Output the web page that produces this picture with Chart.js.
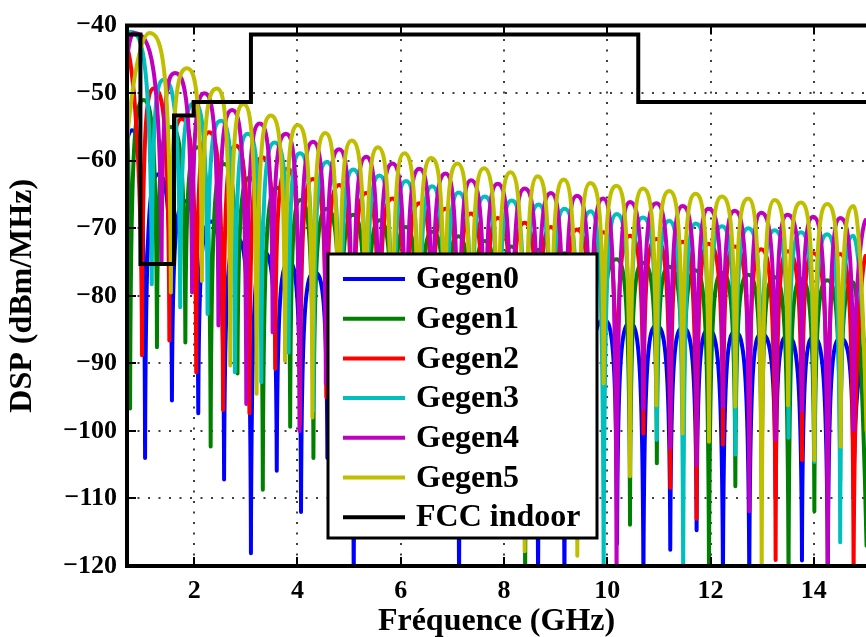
<!DOCTYPE html>
<html>
<head>
<meta charset="utf-8">
<script src="https://cdn.jsdelivr.net/npm/chart.js@4.4.1/dist/chart.umd.min.js"></script>
<style>
html, body { margin: 0; padding: 0; background: #fff; }
</style>
</head>
<body>
<canvas id="chart" width="866" height="637"></canvas>
<script>
var xTicks = [2, 4, 6, 8, 10, 12, 14];
var yTicks = [-120, -110, -100, -90, -80, -70, -60, -50, -40];

//FCC indoor mask, each level holds from its frequency onwards
var fccFreq = [0.7, 0.96, 1.61, 1.99, 3.1, 10.6, 15.01];
var fccDb = [-41.3, -75.3, -53.3, -51.3, -41.3, -51.3, -51.3];

//lobe tops and nulls, in frequency order (GHz, dBm/MHz)
var g0Freq = [0.70, 0.80, 1.05, 1.31, 1.57, 1.83, 2.08, 2.33, 2.58, 2.84, 3.10, 3.35, 3.60, 3.84, 4.07, 4.33, 4.58, 4.84, 5.09, 5.35, 5.60, 5.86, 6.11, 6.36, 6.62, 6.87, 7.13, 7.38, 7.64, 7.90, 8.15, 8.41, 8.66, 8.92, 9.17, 9.43, 9.68, 9.94, 10.19, 10.44, 10.70, 10.95, 11.22, 11.46, 11.73, 11.96, 12.24, 12.47, 12.75, 12.98, 13.26, 13.49, 13.77, 13.99, 14.27, 14.51, 14.77, 15.02];
var g0Db = [-57, -55.5, -104, -62, -95.5, -66, -97.4, -69, -107.2, -71.5, -118.1, -73.5, -105.9, -75, -112, -76.5, -104, -77.5, -123, -78.5, -106, -79.3, -110, -80, -103, -80.7, -123, -81.3, -108, -81.8, -112, -82.3, -123, -82.8, -123, -83.2, -100, -83.6, -116.7, -84, -123, -84.4, -117.6, -84.7, -114.7, -85, -123, -85.3, -123, -85.6, -110, -85.9, -119.2, -86.1, -123, -86.3, -110, -86.5];

var g1Freq = [0.70, 0.76, 1.02, 1.28, 1.55, 1.83, 2.07, 2.32, 2.58, 2.84, 3.08, 3.33, 3.60, 3.86, 4.06, 4.31, 4.57, 4.83, 5.08, 5.34, 5.59, 5.85, 6.10, 6.36, 6.61, 6.87, 7.12, 7.37, 7.63, 7.89, 8.15, 8.41, 8.67, 8.92, 9.17, 9.43, 9.68, 9.93, 10.18, 10.44, 10.69, 10.96, 11.20, 11.47, 11.71, 11.97, 12.22, 12.48, 12.73, 12.99, 13.24, 13.51, 13.75, 14.01, 14.26, 14.51, 14.76, 15.02];
var g1Db = [-55, -96.7, -51, -87.6, -55, -86.9, -58, -102.3, -60.5, -91.5, -62.5, -108.7, -64, -99.4, -65.8, -104, -67.1, -98, -68, -108, -68.8, -101, -69.8, -111, -70.5, -97, -71.2, -106, -71.9, -103, -72.7, -123, -73.2, -109, -73.7, -100, -74.2, -90, -74.6, -113.9, -75.1, -104.8, -75.7, -105, -76.2, -123, -76.6, -108.2, -76.9, -110, -77.2, -123, -77.5, -111.9, -77.7, -107.4, -78, -117];

var g2Freq = [0.70, 0.99, 1.22, 1.52, 1.76, 2.04, 2.29, 2.56, 2.81, 3.07, 3.32, 3.57, 3.81, 4.05, 4.30, 4.56, 4.81, 5.07, 5.33, 5.58, 5.84, 6.10, 6.36, 6.61, 6.87, 7.12, 7.36, 7.63, 7.88, 8.15, 8.40, 8.66, 8.91, 9.17, 9.41, 9.68, 9.92, 10.18, 10.44, 10.70, 10.95, 11.22, 11.46, 11.73, 11.96, 12.24, 12.47, 12.75, 12.98, 13.26, 13.49, 13.77, 13.99, 14.27, 14.51, 14.77, 15.0];
var g2Db = [-43.2, -88.8, -49.3, -86.6, -53.8, -91.3, -55.8, -96.9, -57.8, -97.4, -59.5, -90.8, -61.2, -99, -62.7, -95, -63.6, -104, -64.8, -98, -65.6, -107, -66.3, -94, -67.1, -101, -67.8, -109, -68.5, -97, -69.2, -105, -69.8, -112, -70.2, -99, -70.6, -105, -71.1, -100.4, -71.6, -108.4, -72, -113, -72.3, -102, -72.7, -105, -73.1, -119.1, -73.4, -104.3, -73.7, -110, -73.8, -123, -74.1];

var g3Freq = [0.70, 0.77, 1.18, 1.41, 1.73, 2.00, 2.26, 2.52, 2.79, 3.04, 3.30, 3.56, 3.83, 4.05, 4.31, 4.57, 4.83, 5.08, 5.34, 5.59, 5.85, 6.10, 6.36, 6.61, 6.87, 7.12, 7.37, 7.63, 7.89, 8.15, 8.41, 8.67, 8.92, 9.17, 9.43, 9.68, 9.93, 10.18, 10.44, 10.69, 10.96, 11.20, 11.47, 11.71, 11.97, 12.22, 12.48, 12.73, 12.99, 13.24, 13.51, 13.75, 14.01, 14.26, 14.51, 14.76, 15.02];
var g3Db = [-41.4, -40.9, -78.3, -48, -81.7, -51.5, -82.7, -54.1, -91.3, -56, -92.8, -57.3, -88.4, -58.9, -97, -60.2, -103, -61.3, -95, -62.2, -106, -63, -99, -63.8, -110, -64.7, -96, -65.3, -104, -65.9, -100, -66.5, -108, -67.1, -98, -67.5, -123, -67.9, -100, -68.4, -101.3, -68.9, -123, -69.3, -97, -69.7, -103.5, -70, -100, -70.3, -101, -70.6, -104.6, -70.9, -116.5, -71.1, -97.6];

var g4Freq = [0.70, 0.83, 1.37, 1.63, 1.96, 2.20, 2.47, 2.74, 3.01, 3.27, 3.52, 3.78, 4.04, 4.30, 4.55, 4.81, 5.07, 5.33, 5.58, 5.84, 6.10, 6.36, 6.61, 6.87, 7.12, 7.36, 7.63, 7.88, 8.15, 8.40, 8.66, 8.91, 9.17, 9.41, 9.68, 9.92, 10.18, 10.44, 10.70, 10.95, 11.22, 11.46, 11.73, 11.96, 12.24, 12.47, 12.75, 12.98, 13.26, 13.49, 13.77, 13.99, 14.27, 14.51, 14.77, 15.0];
var g4Db = [-45, -41.1, -74.9, -47, -79.5, -50, -84.4, -52.5, -96, -54.5, -85.4, -56, -100, -57.2, -93, -58.3, -105, -59.4, -97, -60.4, -102, -61.2, -95, -61.9, -108, -62.9, -99, -63.4, -104, -64.1, -96, -64.8, -110, -65.2, -100, -65.6, -123, -66.1, -96.7, -66.3, -102.5, -66.7, -105, -67.1, -96.4, -67.4, -111.9, -67.7, -101.3, -68, -97, -68.3, -123, -68.5, -99.9, -68.8];

var g5Freq = [0.70, 1.135, 1.55, 1.86, 2.15, 2.44, 2.70, 2.955, 3.21, 3.485, 3.76, 4.01, 4.29, 4.54, 4.80, 5.05, 5.32, 5.56, 5.83, 6.07, 6.34, 6.59, 6.85, 7.10, 7.36, 7.61, 7.88, 8.13, 8.40, 8.65, 8.91, 9.16, 9.42, 9.67, 9.93, 10.18, 10.44, 10.69, 10.95, 11.20, 11.46, 11.71, 11.97, 12.22, 12.48, 12.73, 12.99, 13.24, 13.50, 13.75, 14.01, 14.26, 14.52, 14.77, 15.02];
var g5Db = [-57, -41.1, -79.5, -46.3, -77.8, -49.3, -90.3, -51.6, -94.5, -53.3, -89.6, -54.7, -98, -55.9, -103, -57, -96, -58, -107, -58.9, -100, -59.6, -94, -60.4, -105, -61.1, -99, -61.7, -117.8, -62.3, -102, -62.8, -118.5, -63.3, -93, -63.7, -106.7, -64.1, -96.2, -64.5, -100.4, -64.9, -101.6, -65.3, -96.4, -65.6, -123, -65.8, -96.2, -66.2, -104.3, -66.4, -102.3, -66.7, -100];

var labels = ['Gegen0', 'Gegen1', 'Gegen2', 'Gegen3', 'Gegen4', 'Gegen5', 'FCC indoor'];
var colors = ['#0000ff', '#008000', '#ff0000', '#00bfbf', '#bf00bf', '#bfbf00', '#000000'];

var FONT = "'Liberation Serif', 'Times New Roman', serif";

function toPoints(fs, ds) {
	var pts = [];
	for (var i = 0; i < fs.length; i++) {
		pts.push({x: fs[i], y: ds[i]});
	}
	return pts;
}

//round lobe tops, near-vertical drops into the nulls
var archPlugin = {
	id: 'arches',
	beforeDatasetDraw: function(chart, args) {
		var meta = args.meta;
		var line = meta.dataset;
		if (!line || line.options.stepped) {
			return;
		}
		line.updateControlPoints(chart.chartArea, meta.iScale.axis);
		var pts = meta.data;
		for (var i = 0; i < pts.length; i++) {
			var p = pts[i], a = pts[i - 1], b = pts[i + 1];
			p.cp1x = p.x; p.cp1y = p.y; p.cp2x = p.x; p.cp2y = p.y;
			if (!a || !b) {
				continue;
			}
			if (p.y <= a.y && p.y <= b.y) {
				p.cp1x = p.x - 0.6 * (p.x - a.x);
				p.cp2x = p.x + 0.6 * (b.x - p.x);
			} else if (p.y >= a.y && p.y >= b.y) {
				p.cp1x = p.x - 0.05 * (p.x - a.x);
				p.cp1y = p.y - 0.9 * (p.y - a.y);
				p.cp2x = p.x + 0.05 * (b.x - p.x);
				p.cp2y = p.y - 0.9 * (p.y - b.y);
			}
		}
		line._pointsUpdated = true;
	}
};

//dotted grid under the curves, box and inward ticks on top
var framePlugin = {
	id: 'frame',
	beforeDatasetsDraw: function(chart) {
		var ctx = chart.ctx, a = chart.chartArea;
		var xs = chart.scales.x, ys = chart.scales.y;
		ctx.save();
		ctx.strokeStyle = '#000';
		ctx.lineWidth = 1.5;
		ctx.setLineDash([2, 8.5]);
		xTicks.forEach(function(v) {
			var px = Math.round(xs.getPixelForValue(v));
			ctx.beginPath(); ctx.moveTo(px, a.bottom); ctx.lineTo(px, a.top); ctx.stroke();
		});
		yTicks.forEach(function(v) {
			var py = Math.round(ys.getPixelForValue(v));
			ctx.beginPath(); ctx.moveTo(a.left, py); ctx.lineTo(a.right, py); ctx.stroke();
		});
		ctx.restore();
	},
	afterDraw: function(chart) {
		var ctx = chart.ctx, a = chart.chartArea;
		var xs = chart.scales.x, ys = chart.scales.y;
		ctx.save();
		ctx.strokeStyle = '#000';
		ctx.lineWidth = 2;
		xTicks.forEach(function(v) {
			var px = Math.round(xs.getPixelForValue(v));
			ctx.beginPath(); ctx.moveTo(px, a.bottom); ctx.lineTo(px, a.bottom - 9); ctx.stroke();
			ctx.beginPath(); ctx.moveTo(px, a.top); ctx.lineTo(px, a.top + 9); ctx.stroke();
		});
		yTicks.forEach(function(v) {
			var py = Math.round(ys.getPixelForValue(v));
			ctx.beginPath(); ctx.moveTo(a.left, py); ctx.lineTo(a.left + 9, py); ctx.stroke();
		});
		ctx.lineWidth = 4;
		ctx.beginPath();
		ctx.moveTo(a.right, a.top);
		ctx.lineTo(a.left, a.top);
		ctx.lineTo(a.left, a.bottom);
		ctx.lineTo(a.right, a.bottom);
		ctx.stroke();
		ctx.restore();
	}
};

var legendPlugin = {
	id: 'boxLegend',
	afterDatasetsDraw: function(chart) {
		var ctx = chart.ctx;
		var left = 328, top = 254, w = 269, h = 284;
		ctx.save();
		ctx.fillStyle = '#fff';
		ctx.fillRect(left, top, w, h);
		ctx.lineWidth = 3;
		ctx.strokeStyle = '#000';
		ctx.strokeRect(left, top, w, h);
		ctx.font = 'bold 32px ' + FONT;
		ctx.textBaseline = 'middle';
		ctx.textAlign = 'left';
		chart.data.datasets.forEach(function(ds, i) {
			var y = top + 25 + i * 39.7;
			ctx.strokeStyle = ds.borderColor;
			ctx.lineWidth = 4;
			ctx.beginPath(); ctx.moveTo(left + 15, y); ctx.lineTo(left + 77, y); ctx.stroke();
			ctx.fillStyle = '#000';
			ctx.fillText(ds.label, left + 88, y + 1);
		});
		ctx.restore();
	}
};

var series = [[g0Freq, g0Db], [g1Freq, g1Db], [g2Freq, g2Db], [g3Freq, g3Db], [g4Freq, g4Db], [g5Freq, g5Db]];
var datasets = [];
for (var i = 0; i < series.length; i++) {
	datasets.push({
		label: labels[i],
		data: toPoints(series[i][0], series[i][1]),
		borderColor: colors[i],
		borderWidth: 4,
		tension: 0.4,
		borderJoinStyle: 'round',
		borderCapStyle: 'round',
		pointRadius: 0,
		fill: false,
		order: series.length - i
	});
}
datasets.push({
	label: labels[6],
	data: toPoints(fccFreq, fccDb),
	borderColor: colors[6],
	borderWidth: 4,
	stepped: 'before',
	pointRadius: 0,
	fill: false,
	order: 0
});

Chart.defaults.font.family = FONT;
Chart.defaults.color = '#000';

new Chart(document.getElementById('chart'), {
	type: 'line',
	data: {datasets: datasets},
	options: {
		responsive: false,
		animation: false,
		events: [],
		layout: {padding: {top: 21, left: 0, right: 0, bottom: 0}},
		plugins: {legend: {display: false}, tooltip: {enabled: false}},
		scales: {
			x: {
				type: 'linear',
				min: 0.7,
				max: 15.01,
				afterBuildTicks: function(s) { s.ticks = xTicks.map(function(v) { return {value: v}; }); },
				afterFit: function(s) { s.height = 71; },
				grid: {display: false, drawTicks: false},
				border: {display: false},
				ticks: {
					autoSkip: false, maxRotation: 0, padding: 10,
					font: {size: 26, weight: 'bold'},
					callback: function(v) { return String(v); }
				},
				title: {display: true, text: 'Fréquence (GHz)', font: {size: 32, weight: 'bold', lineHeight: 0.9}, padding: {top: 0, bottom: 1}}
			},
			y: {
				type: 'linear',
				min: -120,
				max: -40,
				afterBuildTicks: function(s) { s.ticks = yTicks.map(function(v) { return {value: v}; }); },
				afterFit: function(s) { s.width = 127; },
				grid: {display: false, drawTicks: false},
				border: {display: false},
				ticks: {
					padding: 10,
					font: {size: 26, weight: 'bold'},
					callback: function(v) { return String(v).replace('-', '\u2212'); }
				},
				title: {display: true, text: 'DSP (dBm/MHz)', font: {size: 32, weight: 'bold', lineHeight: 0.9}, padding: {top: 8, bottom: 0}}
			}
		}
	},
	plugins: [archPlugin, framePlugin, legendPlugin]
});
</script>
</body>
</html>
